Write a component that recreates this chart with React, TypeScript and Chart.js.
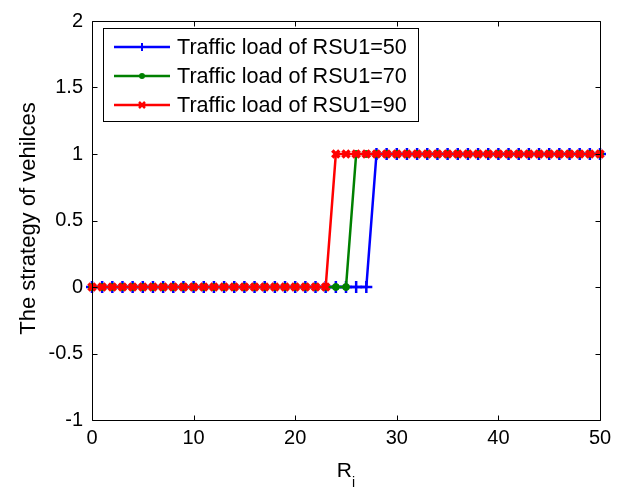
import React, { useEffect, useRef } from 'react';
import { Chart, registerables } from 'chart.js';

Chart.register(...registerables);

const xValues = [0, 1, 2, 3, 4, 5, 6, 7, 8, 9, 10, 11, 12, 13, 14, 15, 16, 17, 18, 19, 20, 21, 22, 23, 24, 25, 26, 27, 28, 29, 30, 31, 32, 33, 34, 35, 36, 37, 38, 39, 40, 41, 42, 43, 44, 45, 46, 47, 48, 49, 50];
const load50 = [0, 0, 0, 0, 0, 0, 0, 0, 0, 0, 0, 0, 0, 0, 0, 0, 0, 0, 0, 0, 0, 0, 0, 0, 0, 0, 0, 0, 1, 1, 1, 1, 1, 1, 1, 1, 1, 1, 1, 1, 1, 1, 1, 1, 1, 1, 1, 1, 1, 1, 1];
const load70 = [0, 0, 0, 0, 0, 0, 0, 0, 0, 0, 0, 0, 0, 0, 0, 0, 0, 0, 0, 0, 0, 0, 0, 0, 0, 0, 1, 1, 1, 1, 1, 1, 1, 1, 1, 1, 1, 1, 1, 1, 1, 1, 1, 1, 1, 1, 1, 1, 1, 1, 1];
const load90 = [0, 0, 0, 0, 0, 0, 0, 0, 0, 0, 0, 0, 0, 0, 0, 0, 0, 0, 0, 0, 0, 0, 0, 0, 1, 1, 1, 1, 1, 1, 1, 1, 1, 1, 1, 1, 1, 1, 1, 1, 1, 1, 1, 1, 1, 1, 1, 1, 1, 1, 1];
const seriesLabels = ['Traffic load of RSU1=50', 'Traffic load of RSU1=70', 'Traffic load of RSU1=90'];
const xTicks = [0, 10, 20, 30, 40, 50];
const yTicks = [-1, -0.5, 0, 0.5, 1, 1.5, 2];
const yTitle = 'The strategy of vehilces';
const xTitleMain = 'R';
const xTitleSub = 'i';

const FONT = '"Liberation Sans", Arial, Helvetica, sans-serif';

function drawMarker(ctx: CanvasRenderingContext2D, style: string, x: number, y: number, color: string) {
  ctx.save();
  ctx.strokeStyle = color;
  ctx.fillStyle = color;
  if (style === 'cross') {
    ctx.lineWidth = 2;
    ctx.beginPath();
    ctx.moveTo(x - 4, y); ctx.lineTo(x + 4, y);
    ctx.moveTo(x, y - 4); ctx.lineTo(x, y + 4);
    ctx.stroke();
  } else if (style === 'circle') {
    ctx.beginPath();
    ctx.arc(x, y, 3, 0, Math.PI * 2);
    ctx.fill();
  } else {
    ctx.lineWidth = 2.5;
    ctx.beginPath();
    ctx.moveTo(x - 3, y - 3); ctx.lineTo(x + 3, y + 3);
    ctx.moveTo(x - 3, y + 3); ctx.lineTo(x + 3, y - 3);
    ctx.stroke();
  }
  ctx.restore();
}

const framePlugin = {
  id: 'matlabFrame',
  afterDatasetsDraw(chart: any) {
    const { ctx, chartArea } = chart;
    const { left, right, top, bottom } = chartArea;
    const xs = chart.scales.x;
    const ys = chart.scales.y;
    ctx.save();
    ctx.strokeStyle = '#000';
    ctx.lineWidth = 1;
    const L = Math.round(left) + 0.5;
    const R = Math.round(right) + 0.5;
    const T = Math.round(top) + 0.5;
    const B = Math.round(bottom) + 0.5;
    ctx.beginPath();
    ctx.rect(L, T, R - L, B - T);
    ctx.stroke();
    const tl = 5;
    ctx.beginPath();
    xTicks.forEach((v) => {
      const px = Math.round(xs.getPixelForValue(v)) + 0.5;
      ctx.moveTo(px, B); ctx.lineTo(px, B - tl);
      ctx.moveTo(px, T); ctx.lineTo(px, T + tl);
    });
    yTicks.forEach((v) => {
      const py = Math.round(ys.getPixelForValue(v)) + 0.5;
      ctx.moveTo(L, py); ctx.lineTo(L + tl, py);
      ctx.moveTo(R, py); ctx.lineTo(R - tl, py);
    });
    ctx.stroke();

    // legend
    const bx = 103.5, by = 28.5, bw = 315, bh = 93;
    ctx.fillStyle = '#fff';
    ctx.fillRect(bx, by, bw, bh);
    ctx.strokeStyle = '#000';
    ctx.lineWidth = 1;
    ctx.strokeRect(bx, by, bw, bh);
    chart.data.datasets.forEach((ds: any, i: number) => {
      const ry = 47 + i * 29;
      ctx.strokeStyle = ds.borderColor;
      ctx.lineWidth = 2.5;
      ctx.beginPath();
      ctx.moveTo(114, ry); ctx.lineTo(170, ry);
      ctx.stroke();
      drawMarker(ctx, ds.pointStyle, 142, ry, ds.borderColor);
      ctx.fillStyle = '#000';
      ctx.font = `21.6px ${FONT}`;
      ctx.textAlign = 'left';
      ctx.textBaseline = 'middle';
      ctx.fillText(ds.label, 177, ry + 1);
    });
    ctx.restore();
  },
  afterDraw(chart: any) {
    const { ctx, chartArea } = chart;
    const cy = (chartArea.top + chartArea.bottom) / 2;
    const cx = (chartArea.left + chartArea.right) / 2;
    ctx.save();
    ctx.fillStyle = '#000';
    ctx.font = `22px ${FONT}`;
    ctx.textAlign = 'center';
    ctx.textBaseline = 'middle';
    ctx.translate(29, cy - 2);
    ctx.rotate(-Math.PI / 2);
    ctx.fillText(yTitle, 0, 0);
    ctx.restore();

    ctx.save();
    ctx.fillStyle = '#000';
    ctx.textBaseline = 'alphabetic';
    ctx.textAlign = 'left';
    ctx.font = `21px ${FONT}`;
    const rw = ctx.measureText(xTitleMain).width;
    ctx.font = `14px ${FONT}`;
    const iw = ctx.measureText(xTitleSub).width;
    const start = cx - (rw + iw) / 2;
    ctx.font = `21px ${FONT}`;
    ctx.fillText(xTitleMain, start, 477);
    ctx.font = `14px ${FONT}`;
    ctx.fillText(xTitleSub, start + rw, 487);
    ctx.restore();
  },
};

export default function App() {
  const ref = useRef<HTMLCanvasElement | null>(null);
  useEffect(() => {
    if (!ref.current) return;
    const mk = (vals: number[]) => xValues.map((x, i) => ({ x, y: vals[i] }));
    const chart = new Chart(ref.current, {
      type: 'line',
      data: {
        datasets: [
          {
            label: seriesLabels[0], data: mk(load50), borderColor: '#0000ff', backgroundColor: '#0000ff',
            borderWidth: 2.5, pointStyle: 'cross', pointRadius: 6, pointBorderWidth: 2.5, pointHoverRadius: 6,
            tension: 0, clip: false as any, order: 2,
          },
          {
            label: seriesLabels[1], data: mk(load70), borderColor: '#008000', backgroundColor: '#008000',
            borderWidth: 2.5, pointStyle: 'circle', pointRadius: 3.5, pointBorderWidth: 1, pointHoverRadius: 3.5,
            tension: 0, clip: false as any, order: 1,
          },
          {
            label: seriesLabels[2], data: mk(load90), borderColor: '#ff0000', backgroundColor: '#ff0000',
            borderWidth: 2.5, pointStyle: 'crossRot', pointRadius: 5, pointBorderWidth: 3.5, pointHoverRadius: 5,
            tension: 0, clip: false as any, order: 0,
          },
        ],
      },
      options: {
        responsive: false,
        animation: false,
        events: [],
        layout: { padding: { top: 19, right: 22, left: 0, bottom: 0 } },
        plugins: { legend: { display: false }, tooltip: { enabled: false }, title: { display: false } },
        scales: {
          x: {
            type: 'linear', min: 0, max: 50,
            grid: { display: false, drawTicks: false },
            border: { display: false },
            afterBuildTicks: (s: any) => { s.ticks = xTicks.map((v) => ({ value: v })); },
            afterFit: (s: any) => { s.height = 67; },
            ticks: { color: '#000', font: { family: FONT, size: 20 }, padding: 6, maxRotation: 0, callback: (v: any) => String(v) },
          },
          y: {
            type: 'linear', min: -1, max: 2,
            grid: { display: false, drawTicks: false },
            border: { display: false },
            afterBuildTicks: (s: any) => { s.ticks = yTicks.map((v) => ({ value: v })); },
            afterFit: (s: any) => { s.width = 92; },
            ticks: { color: '#000', font: { family: FONT, size: 20 }, padding: 9, callback: (v: any) => String(v) },
          },
        },
      },
      plugins: [framePlugin],
    } as any);
    return () => chart.destroy();
  }, []);
  return (
    <div style={{ position: 'fixed', left: 0, top: 0, width: 622, height: 487, background: '#fff' }}>
      <canvas ref={ref} width={622} height={487} style={{ display: 'block' }} />
    </div>
  );
}
